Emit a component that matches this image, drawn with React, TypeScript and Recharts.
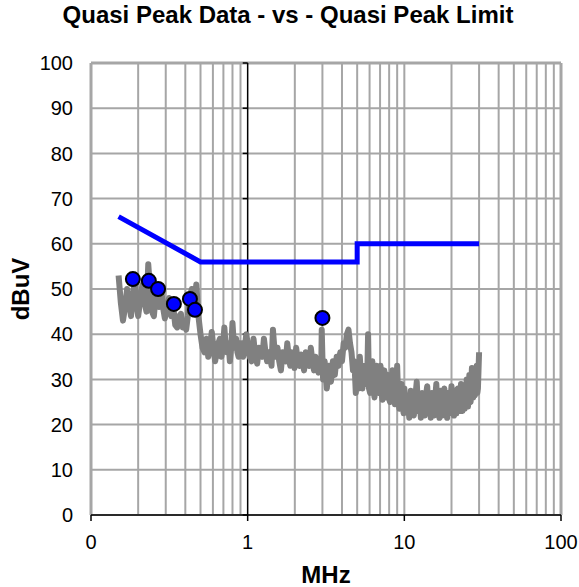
import {
  ComposedChart,
  Line,
  Scatter,
  XAxis,
  YAxis,
  CartesianGrid,
  ReferenceLine,
} from 'recharts';

// quasi peak scan, [MHz, dBuV]
const qpScan: [number, number][] = [
  [0.15, 53], [0.155, 47], [0.16, 43], [0.165, 46], [0.17, 50], [0.175, 47],
  [0.18, 44], [0.185, 48], [0.19, 52], [0.195, 47], [0.2, 44], [0.207, 48],
  [0.213, 51], [0.22, 47], [0.226, 45], [0.232, 55.5], [0.238, 50], [0.245, 45],
  [0.252, 44], [0.258, 48], [0.265, 50], [0.272, 46], [0.28, 50.5], [0.288, 46],
  [0.296, 43.5], [0.305, 46], [0.315, 48], [0.325, 44], [0.335, 46], [0.345, 42],
  [0.355, 41.5], [0.365, 44], [0.375, 44.5], [0.385, 41.5], [0.395, 43], [0.405, 41],
  [0.415, 44], [0.425, 48], [0.44, 50], [0.455, 46], [0.47, 51], [0.485, 44],
  [0.5, 40], [0.515, 37], [0.53, 36], [0.545, 39], [0.56, 35], [0.575, 37],
  [0.59, 40.5], [0.605, 37], [0.62, 34], [0.635, 36], [0.65, 38], [0.665, 39],
  [0.68, 35], [0.695, 37], [0.71, 41.5], [0.725, 37], [0.74, 36], [0.755, 38],
  [0.77, 34], [0.785, 37], [0.8, 42.5], [0.815, 38], [0.83, 37], [0.845, 39],
  [0.86, 36], [0.875, 35], [0.89, 38], [0.905, 37], [0.92, 38], [0.935, 35],
  [0.95, 36], [0.965, 38], [0.98, 40],
  [1.0, 38], [1.03, 35], [1.06, 34], [1.09, 39], [1.12, 35], [1.15, 33.5],
  [1.18, 37], [1.21, 36], [1.24, 35], [1.27, 39], [1.3, 36], [1.33, 34],
  [1.36, 36], [1.39, 35], [1.42, 33], [1.45, 41], [1.48, 37], [1.51, 35],
  [1.55, 37], [1.59, 34], [1.63, 32], [1.67, 36], [1.71, 35], [1.75, 34],
  [1.79, 38], [1.83, 35], [1.87, 33], [1.91, 36], [1.95, 35], [1.99, 32.5],
  [2.04, 37], [2.09, 34], [2.14, 33], [2.19, 35.5], [2.24, 34], [2.29, 32],
  [2.35, 36], [2.41, 34], [2.47, 33], [2.53, 37], [2.59, 34], [2.65, 32],
  [2.71, 35], [2.77, 33], [2.83, 31.5], [2.9, 34], [2.95, 33], [2.97, 41],
  [3.0, 35], [3.03, 30], [3.1, 34], [3.2, 28], [3.3, 33], [3.4, 29.5],
  [3.5, 34], [3.6, 31], [3.7, 35], [3.8, 33], [3.9, 36], [4.0, 34],
  [4.1, 38], [4.2, 37], [4.3, 40], [4.4, 41], [4.5, 38], [4.6, 36],
  [4.7, 32], [4.8, 34], [4.9, 27], [5.0, 31], [5.1, 28], [5.2, 35],
  [5.3, 30], [5.4, 28], [5.5, 32], [5.6, 33], [5.7, 29], [5.8, 31],
  [5.87, 40], [5.95, 28], [6.05, 27], [6.15, 32], [6.25, 34], [6.35, 28],
  [6.45, 26], [6.55, 31], [6.65, 33], [6.75, 28], [6.85, 27], [6.95, 31],
  [7.05, 33], [7.15, 27], [7.25, 25.5], [7.35, 30], [7.45, 32], [7.55, 27],
  [7.65, 26], [7.75, 30], [7.85, 31], [7.95, 26], [8.1, 25], [8.25, 29],
  [8.4, 32], [8.55, 26], [8.7, 24.5], [8.85, 29], [9.0, 33], [9.15, 25],
  [9.3, 23.5], [9.45, 27], [9.6, 29], [9.75, 24], [9.9, 22.5],
  [10, 28], [10.25, 23], [10.5, 26], [10.75, 21.5], [11, 27.5], [11.25, 24],
  [11.5, 22], [11.75, 26], [12, 29.5], [12.25, 23], [12.5, 25.5], [12.75, 21.5],
  [13, 27], [13.25, 24.5], [13.5, 22], [13.75, 26.5], [14, 28.5], [14.25, 22.5],
  [14.5, 25], [14.75, 21.5], [15, 27], [15.25, 24], [15.5, 22], [15.75, 26],
  [16, 29], [16.25, 23], [16.5, 25.5], [16.75, 21.5], [17, 27.5], [17.25, 24],
  [17.5, 22], [17.75, 26.5], [18, 28], [18.25, 22.5], [18.5, 25], [18.75, 21.5],
  [19, 27], [19.25, 24.5], [19.5, 22.5], [19.75, 26], [20, 28.5], [20.25, 23],
  [20.5, 25.5], [20.75, 22], [21, 27.5], [21.25, 24.5], [21.5, 22.5], [21.75, 26.5],
  [22, 28], [22.25, 23], [22.5, 25.5], [22.75, 23], [23, 29], [23.25, 24.5],
  [23.5, 23], [23.75, 27], [24, 28], [24.25, 23.5], [24.5, 26], [24.75, 24],
  [25, 30], [25.25, 25], [25.5, 24], [25.75, 28], [26, 31], [26.25, 25.5],
  [26.5, 25], [26.75, 29], [27, 32.5], [27.25, 26], [27.5, 26], [27.75, 30],
  [28, 31], [28.25, 26.5], [28.5, 27], [28.75, 31], [29, 33], [29.25, 27],
  [29.5, 28], [29.75, 32], [30, 36],
];

// quasi peak limit, [MHz, dBuV]
const qpLimit: [number, number][] = [
  [0.15, 66], [0.5, 56], [5, 56], [5, 60], [30, 60],
];

// measured peaks, [MHz, dBuV]
const qpPeaks: [number, number][] = [
  [0.185, 52.2], [0.234, 51.8], [0.268, 50], [0.338, 46.7],
  [0.428, 47.8], [0.461, 45.4], [3.0, 43.6],
];

const xTicks = [0.1, 1, 10, 100];
const yTicks = [0, 10, 20, 30, 40, 50, 60, 70, 80, 90, 100];
const xGridLines = [
  0.2, 0.3, 0.4, 0.5, 0.6, 0.7, 0.8, 0.9,
  2, 3, 4, 5, 6, 7, 8, 9, 10,
  20, 30, 40, 50, 60, 70, 80, 90,
];

const toPoints = (rows: [number, number][]) => rows.map(([f, v]) => ({ f, v }));

const scanData = toPoints(qpScan);
const limitData = toPoints(qpLimit);
const peakData = toPoints(qpPeaks);

const FONT = '"Liberation Sans", Arial, sans-serif';
const GRID = '#a6a6a6';

const PeakDot = (props: any) => (
  <circle cx={props.cx} cy={props.cy} r={7} fill="#0000ff" stroke="#000" strokeWidth={2} />
);

export default function App() {
  return (
    <div style={{ position: 'absolute', left: 0, top: 0, width: 579, height: 587, background: '#fff', fontFamily: FONT }}>
      <div
        style={{
          position: 'absolute',
          left: 0,
          width: 576,
          top: 1,
          textAlign: 'center',
          fontWeight: 'bold',
          fontSize: 24,
          color: '#000',
          whiteSpace: 'nowrap',
        }}
      >
        Quasi Peak Data - vs - Quasi Peak Limit
      </div>
      <ComposedChart
        width={579}
        height={587}
        margin={{ top: 63, right: 18, bottom: 0, left: 0 }}
        style={{ fontFamily: FONT }}
      >
        <CartesianGrid vertical={false} stroke={GRID} strokeWidth={2} />
        {xGridLines.map((x) => (
          <ReferenceLine key={x} x={x} stroke={GRID} strokeWidth={2} />
        ))}
        <ReferenceLine x={0.1} stroke={GRID} strokeWidth={3} />
        <ReferenceLine x={100} stroke={GRID} strokeWidth={3} />
        <ReferenceLine y={100} stroke={GRID} strokeWidth={3} />
        <ReferenceLine x={1} stroke="#000" strokeWidth={1.5} />
        {yTicks.map((y) => (
          <ReferenceLine
            key={'t' + y}
            segment={[{ x: 0.93, y }, { x: 1, y }]}
            stroke="#000"
            strokeWidth={1.5}
          />
        ))}
        <XAxis
          dataKey="f"
          type="number"
          scale="log"
          domain={[0.1, 100]}
          ticks={xTicks}
          allowDataOverflow
          height={72}
          stroke="#000"
          strokeWidth={1.5}
          tickSize={6}
          tickMargin={14}
          tick={{ fill: '#000', fontSize: 20, fontFamily: FONT }}
          tickFormatter={(v: number) => (v < 1 ? '0' : String(v))}
          label={() => (
            <text x={326} y={574} textAnchor="middle" dominantBaseline="central" fontWeight="bold" fontSize={24} fontFamily={FONT} fill="#000">
              MHz
            </text>
          )}
        />
        <YAxis
          type="number"
          domain={[0, 100]}
          ticks={yTicks}
          width={91}
          axisLine={false}
          tickLine={false}
          tickSize={0}
          tickMargin={18}
          tick={{ fill: '#000', fontSize: 20, fontFamily: FONT }}
          label={() => (
            <text x={20} y={289} transform="rotate(-90 20 289)" textAnchor="middle" dominantBaseline="central" fontWeight="bold" fontSize={24} fontFamily={FONT} fill="#000">
              dBuV
            </text>
          )}
        />
        <Line
          data={scanData}
          dataKey="v"
          type="linear"
          stroke="#808080"
          strokeWidth={6}
          strokeLinejoin="round"
          dot={false}
          isAnimationActive={false}
        />
        <Line
          data={limitData}
          dataKey="v"
          type="linear"
          stroke="#0000ff"
          strokeWidth={5}
          dot={false}
          isAnimationActive={false}
        />
        <Scatter data={peakData} dataKey="v" shape={PeakDot} isAnimationActive={false} />
      </ComposedChart>
    </div>
  );
}
